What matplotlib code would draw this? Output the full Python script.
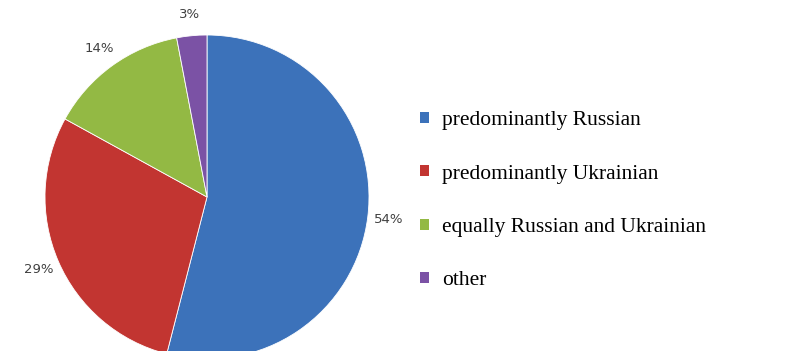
import matplotlib.pyplot as plt

labels = ['predominantly Russian', 'predominantly Ukrainian',
          'equally Russian and Ukrainian', 'other']
shares = [54, 29, 14, 3]
colors = ['#3C72BA', '#C23531', '#93B944', '#7B52A5']

W, H = 785, 351
fig = plt.figure(figsize=(W / 100, H / 100), dpi=100)
ax = fig.add_axes([0, 0, 1, 1])
ax.set_xlim(0, W)
ax.set_ylim(0, H)
ax.set_aspect('equal')
ax.axis('off')

wedges, texts, autotexts = ax.pie(
    shares, colors=colors, startangle=90, counterclock=False,
    center=(207, H - 197), radius=162, autopct='%d%%', pctdistance=1.13,
    wedgeprops=dict(linewidth=0.6, edgecolor='white'),
    textprops=dict(fontsize=9.5, color='#404040', family='DejaVu Sans'))
ax.set_xlim(0, W)
ax.set_ylim(0, H)

leg = ax.legend(wedges, labels, loc='upper left',
                bbox_to_anchor=(401 / W, 1 - 92 / H),
                frameon=False, handlelength=0.4, handleheight=0.4,
                handletextpad=0.62, labelspacing=1.59,
                prop=dict(family='Liberation Serif', size=15.5))
for h in leg.legend_handles:
    h.set_edgecolor('none')

fig.savefig('out.png', dpi=100)
